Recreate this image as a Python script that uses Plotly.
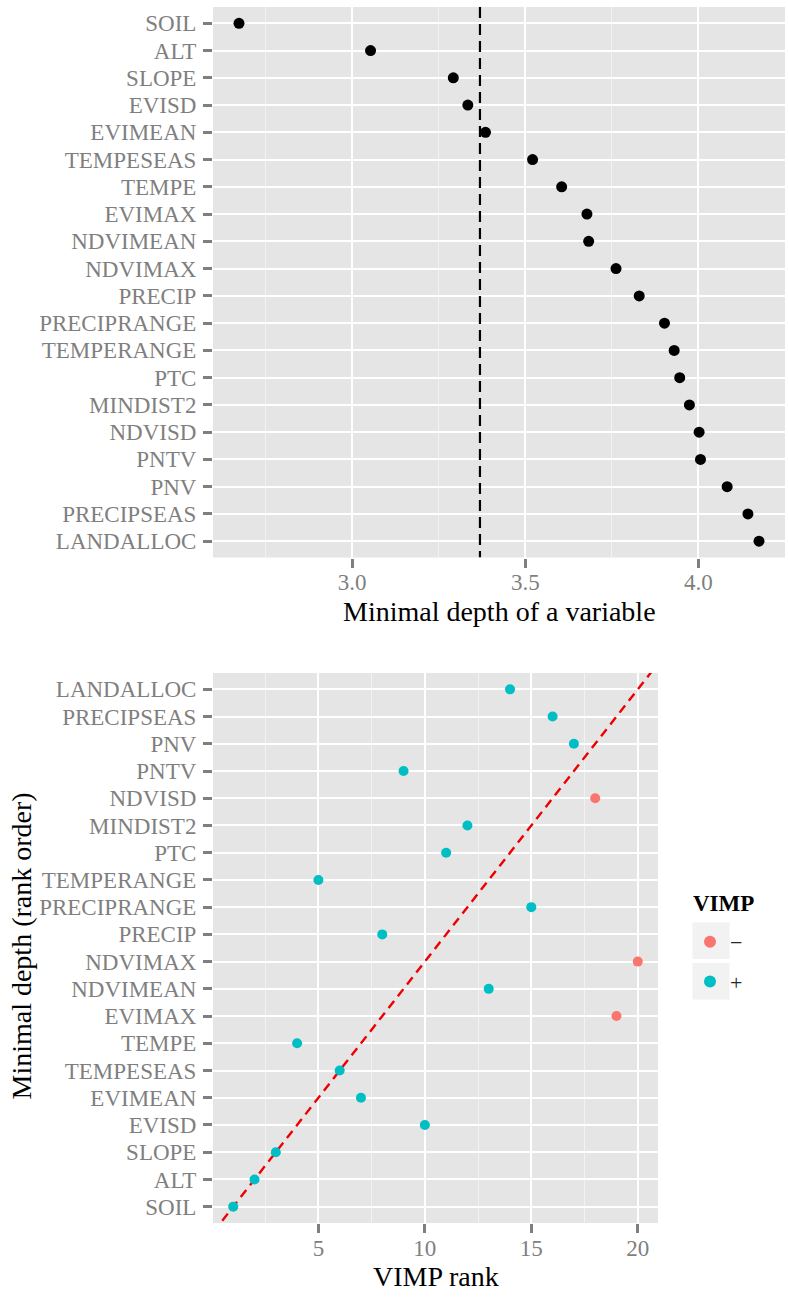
import plotly.graph_objects as go

# Variables in order of increasing minimal depth
variables = ["SOIL", "ALT", "SLOPE", "EVISD", "EVIMEAN", "TEMPESEAS", "TEMPE",
             "EVIMAX", "NDVIMEAN", "NDVIMAX", "PRECIP", "PRECIPRANGE",
             "TEMPERANGE", "PTC", "MINDIST2", "NDVISD", "PNTV", "PNV",
             "PRECIPSEAS", "LANDALLOC"]
min_depth = [2.673, 3.053, 3.292, 3.334, 3.385, 3.521, 3.605, 3.678, 3.683,
             3.762, 3.829, 3.902, 3.930, 3.946, 3.974, 4.002, 4.006, 4.083,
             4.143, 4.175]
depth_threshold = 3.369
vimp_rank = [1, 2, 3, 10, 7, 6, 4, 19, 13, 20, 8, 15, 5, 11, 12, 18, 9, 17, 16, 14]
vimp_sign = ["+", "+", "+", "+", "+", "+", "+", "−", "+", "−", "+", "+", "+",
             "+", "+", "−", "+", "+", "+", "+"]
depth_ticks = [3.0, 3.5, 4.0]
rank_ticks = [5, 10, 15, 20]

W, H = 788, 1298
FONT = "Liberation Serif"
GREY_TXT = "#7f7f7f"
PANEL_BG = "#e5e5e5"
sign_colors = {"−": "#F8766D", "+": "#00BFC4"}

depth_rank = list(range(1, len(variables) + 1))


def expand(lo, hi, frac=0.05):
    pad = (hi - lo) * frac
    return [lo - pad, hi + pad]


def midpoints(ticks, lo, hi):
    step = ticks[1] - ticks[0]
    pts = [ticks[0] - step / 2] + [(a + b) / 2 for a, b in zip(ticks, ticks[1:])] + [ticks[-1] + step / 2]
    return [p for p in pts if lo <= p <= hi + 1e-9]


x1_range = expand(min(min_depth), max(min_depth))
x2_range = expand(min(vimp_rank), max(vimp_rank))
y_range = [0.4, len(variables) + 0.6]


def px_x(p):
    return p / W


def px_y(p):
    return 1 - p / H


fig = go.Figure()

# Top panel: threshold line, then minimal depth points
fig.add_trace(go.Scatter(
    x=[depth_threshold, depth_threshold], y=y_range, mode="lines",
    line=dict(color="black", width=2.2, dash="11px,6px"),
    showlegend=False, hoverinfo="skip", xaxis="x", yaxis="y"))
fig.add_trace(go.Scatter(
    x=min_depth, y=depth_rank, mode="markers",
    marker=dict(color="black", size=11),
    showlegend=False, xaxis="x", yaxis="y"))

# Bottom panel: identity line, then VIMP rank points by sign
fig.add_trace(go.Scatter(
    x=x2_range, y=x2_range, mode="lines",
    line=dict(color="#ee0000", width=2.4, dash="9px,6px"),
    showlegend=False, hoverinfo="skip", xaxis="x2", yaxis="y2"))
for sign in ["−", "+"]:
    idx = [i for i, s in enumerate(vimp_sign) if s == sign]
    fig.add_trace(go.Scatter(
        x=[vimp_rank[i] for i in idx], y=[depth_rank[i] for i in idx],
        mode="markers", name=sign, legendgroup=sign,
        marker=dict(color=sign_colors[sign], size=10),
        xaxis="x2", yaxis="y2"))

tickfont = dict(family=FONT, size=23, color=GREY_TXT)
common_x = dict(showline=False, zeroline=False, ticks="outside", ticklen=9,
                tickwidth=2.5, tickcolor=GREY_TXT, tickfont=tickfont,
                showgrid=True, gridcolor="white", gridwidth=2.2,
                ticklabelstandoff=-5)
common_y = dict(showline=False, zeroline=False, ticks="outside", ticklen=9,
                tickwidth=2.5, tickcolor=GREY_TXT, tickfont=tickfont,
                showgrid=True, gridcolor="white", gridwidth=2.2,
                tickmode="array", tickvals=depth_rank, ticktext=variables,
                ticklabelstandoff=2)

fig.update_layout(
    width=W, height=H,
    margin=dict(l=0, r=0, t=0, b=0),
    paper_bgcolor="white", plot_bgcolor=PANEL_BG,
    font=dict(family=FONT),
    xaxis=dict(common_x, domain=[px_x(213), px_x(785)], range=x1_range,
               tickmode="array", tickvals=depth_ticks, tickformat=".1f",
               minor=dict(tickmode="array", tickvals=midpoints(depth_ticks, *x1_range),
                          showgrid=True, gridcolor="#f2f2f2", gridwidth=1, ticks=""),
               anchor="y"),
    yaxis=dict(common_y, domain=[px_y(557.5), px_y(7)],
               range=[y_range[1], y_range[0]], anchor="x"),
    xaxis2=dict(common_x, domain=[px_x(213), px_x(658)], range=x2_range,
                tickmode="array", tickvals=rank_ticks,
                minor=dict(tickmode="array", tickvals=midpoints(rank_ticks, *x2_range),
                           showgrid=True, gridcolor="#f2f2f2", gridwidth=1, ticks=""),
                anchor="y2"),
    yaxis2=dict(common_y, domain=[px_y(1223), px_y(673)], range=y_range,
                anchor="x2"),
    legend=dict(
        font=dict(family=FONT, size=22, color="#262626"),
        x=px_x(690), xanchor="left", y=px_y(921), yanchor="top",
        bgcolor="rgba(0,0,0,0)", tracegroupgap=8, itemsizing="constant",
    ),
    showlegend=True,
)

# Legend key backgrounds
for top in (922.5, 963.0):
    fig.add_shape(type="rect", xref="paper", yref="paper",
                  x0=px_x(692.5), x1=px_x(729.5), y0=px_y(top + 36.5), y1=px_y(top),
                  fillcolor="#f2f2f2", line=dict(width=0), layer="below")

# Legend heading
fig.add_annotation(text="<b>VIMP</b>", xref="paper", yref="paper",
                   x=px_x(691), y=px_y(903), xanchor="left", yanchor="middle",
                   showarrow=False, font=dict(family=FONT, size=23, color="black"))

# Axis titles
title_font = dict(family=FONT, size=28, color="black")
fig.add_annotation(text="Minimal depth of a variable", xref="paper", yref="paper",
                   x=px_x((213 + 785) / 2), y=px_y(611), xanchor="center", yanchor="middle",
                   showarrow=False, font=title_font)
fig.add_annotation(text="VIMP rank", xref="paper", yref="paper",
                   x=px_x((213 + 658) / 2), y=px_y(1276), xanchor="center", yanchor="middle",
                   showarrow=False, font=title_font)
fig.add_annotation(text="Minimal depth (rank order)", xref="paper", yref="paper",
                   x=px_x(21.5), y=px_y(946), xanchor="center", yanchor="middle",
                   textangle=-90, showarrow=False, font=title_font)

fig.write_html("out.html")
